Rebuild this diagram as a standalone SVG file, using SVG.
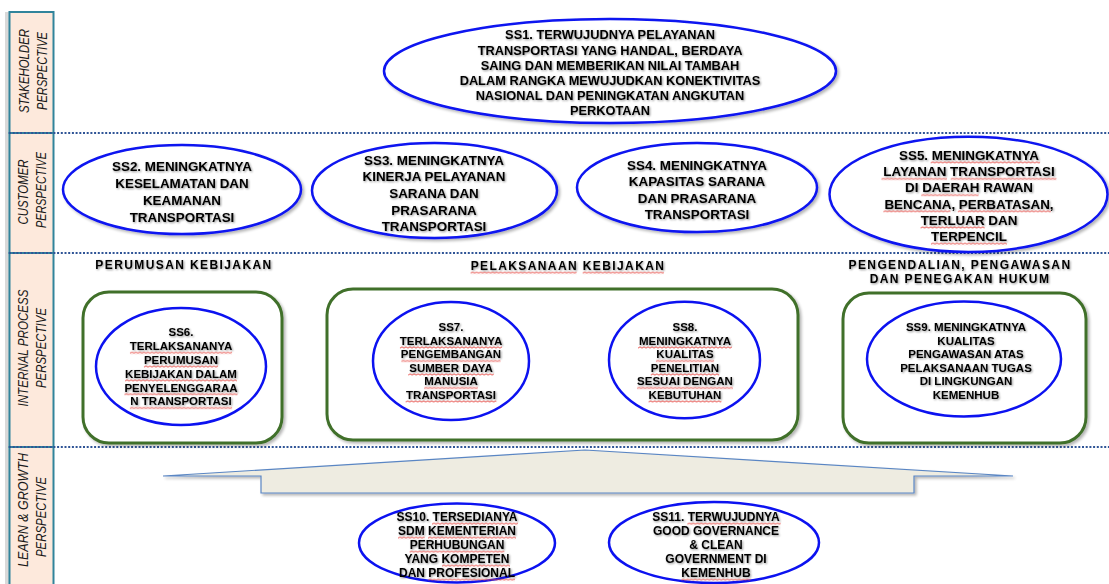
<svg xmlns="http://www.w3.org/2000/svg" width="1109" height="584" viewBox="0 0 1109 584">
<defs>
<filter id="ts" x="-5%" y="-20%" width="110%" height="140%">
<feGaussianBlur in="SourceAlpha" stdDeviation="0.9"/>
<feOffset dx="1" dy="1" result="b"/>
<feComponentTransfer in="b" result="c"><feFuncA type="linear" slope="0.45"/></feComponentTransfer>
<feMerge><feMergeNode in="c"/><feMergeNode in="SourceGraphic"/></feMerge>
</filter>
<filter id="ss" x="-5%" y="-5%" width="112%" height="115%">
<feGaussianBlur in="SourceAlpha" stdDeviation="1.5"/>
<feOffset dx="1.5" dy="2" result="b"/>
<feComponentTransfer in="b" result="c"><feFuncA type="linear" slope="0.3"/></feComponentTransfer>
<feMerge><feMergeNode in="c"/><feMergeNode in="SourceGraphic"/></feMerge>
</filter>
<pattern id="wv" width="4" height="3" patternUnits="userSpaceOnUse">
<path d="M-2,0.8 L0,2.2 L2,0.8 L4,2.2 L6,0.8" fill="none" stroke="#e5423c" stroke-width="0.9"/>
</pattern>
<style>
.col{fill:#fde9dc;stroke:#31849b;stroke-width:2}
.lab{font-family:"Liberation Sans",Arial,sans-serif;font-style:italic;font-size:14px;fill:#1a1a1a}
.dot{stroke:#2f5496;stroke-width:2;stroke-dasharray:2 1.7;fill:none}
.ell{fill:#fff;stroke:#0c12f0;stroke-width:2.5}
.grp{fill:#fff;stroke:#41702a;stroke-width:3}
.t{font-family:"Liberation Sans",Arial,sans-serif;font-weight:bold;fill:#000;text-anchor:middle}
.f1{font-size:12.8px}
.f2{font-size:13.4px}
.f3{font-size:11.5px}
.f4{font-size:12px}
.hd{font-size:12px;letter-spacing:1.4px}
.sq{fill:url(#wv)}
</style>
</defs>
<rect width="1109" height="584" fill="#fff"/>
<rect x="5" y="12" width="4" height="572" fill="#d9d9d9"/>
<g id="perspectives">
<rect class="col" x="9.5" y="12" width="44" height="121"/>
<rect class="col" x="9.5" y="133" width="44" height="120"/>
<rect class="col" x="9.5" y="253" width="44" height="194"/>
<rect class="col" x="9.5" y="447" width="44" height="142"/>
<text class="lab" transform="translate(28.5,71) rotate(-90)" text-anchor="middle" textLength="84" lengthAdjust="spacingAndGlyphs">STAKEHOLDER</text>
<text class="lab" transform="translate(47,71) rotate(-90)" text-anchor="middle" textLength="78" lengthAdjust="spacingAndGlyphs">PERSPECTIVE</text>
<text class="lab" transform="translate(28,192) rotate(-90)" text-anchor="middle" textLength="65" lengthAdjust="spacingAndGlyphs">CUSTOMER</text>
<text class="lab" transform="translate(46,190) rotate(-90)" text-anchor="middle" textLength="76" lengthAdjust="spacingAndGlyphs">PERSPECTIVE</text>
<text class="lab" transform="translate(28,348) rotate(-90)" text-anchor="middle" textLength="117" lengthAdjust="spacingAndGlyphs">INTERNAL PROCESS</text>
<text class="lab" transform="translate(46,348) rotate(-90)" text-anchor="middle" textLength="80" lengthAdjust="spacingAndGlyphs">PERSPECTIVE</text>
<text class="lab" transform="translate(28,510) rotate(-90)" text-anchor="middle" textLength="114" lengthAdjust="spacingAndGlyphs">LEARN &amp; GROWTH</text>
<text class="lab" transform="translate(46,517) rotate(-90)" text-anchor="middle" textLength="80" lengthAdjust="spacingAndGlyphs">PERSPECTIVE</text>
</g>
<g id="separators">
<line class="dot" x1="9" y1="133" x2="1109" y2="133"/>
<line class="dot" x1="9" y1="253" x2="1109" y2="253"/>
<line class="dot" x1="9" y1="447" x2="1109" y2="447"/>
</g>
<g id="connectors">
<polygon points="163,476 585,450 1013,476 914,476 914,493 261,493 261,476" fill="#eeece1" stroke="#5a86c4" stroke-width="1.2" filter="url(#ss)"/>
</g>
<g id="SS1">
<ellipse class="ell" cx="610" cy="71" rx="226" ry="52" filter="url(#ss)"/>
<g class="t f1" filter="url(#ts)">
<text x="610" y="39.4">SS1. TERWUJUDNYA PELAYANAN</text>
<text x="610" y="54.6">TRANSPORTASI YANG HANDAL, BERDAYA</text>
<text x="610" y="69.8">SAING DAN MEMBERIKAN NILAI TAMBAH</text>
<text x="610" y="85">DALAM RANGKA MEWUJUDKAN KONEKTIVITAS</text>
<text x="610" y="100.2">NASIONAL DAN PENINGKATAN ANGKUTAN</text>
<text x="610" y="115.4">PERKOTAAN</text>
</g>
</g>
<g id="SS2">
<ellipse class="ell" cx="182" cy="189.5" rx="119" ry="44.5" filter="url(#ss)"/>
<g class="t f2" filter="url(#ts)">
<text x="182" y="170.5">SS2. MENINGKATNYA</text>
<text x="182" y="187.5">KESELAMATAN DAN</text>
<text x="182" y="204.5">KEAMANAN</text>
<text x="182" y="221.5">TRANSPORTASI</text>
</g>
</g>
<g id="SS3">
<ellipse class="ell" cx="434.5" cy="190.5" rx="122.5" ry="47.5" filter="url(#ss)"/>
<g class="t f2" filter="url(#ts)">
<text x="434" y="164.7">SS3. MENINGKATNYA</text>
<text x="434" y="181.4">KINERJA PELAYANAN</text>
<text x="434" y="198">SARANA DAN</text>
<text x="434" y="214.7">PRASARANA</text>
<text x="434" y="231.4">TRANSPORTASI</text>
</g>
</g>
<g id="SS4">
<ellipse class="ell" cx="697" cy="187.5" rx="120" ry="44.5" filter="url(#ss)"/>
<g class="t f2" filter="url(#ts)">
<text x="697" y="169.7">SS4. MENINGKATNYA</text>
<text x="697" y="186.2">KAPASITAS SARANA</text>
<text x="697" y="202.7">DAN PRASARANA</text>
<text x="697" y="218.5">TRANSPORTASI</text>
</g>
</g>
<g id="SS5">
<ellipse class="ell" cx="968.5" cy="194.3" rx="139" ry="57.6" filter="url(#ss)"/>
<g class="t f2" filter="url(#ts)">
<text x="969" y="159.7">SS5. MENINGKATNYA</text>
<text x="969" y="176.2">LAYANAN TRANSPORTASI</text>
<text x="969" y="192.4">DI DAERAH RAWAN</text>
<text x="969" y="208.6">BENCANA, PERBATASAN,</text>
<text x="969" y="224.8">TERLUAR DAN</text>
<text x="969" y="241">TERPENCIL</text>
</g>
<rect class="sq" transform="translate(930.7,160.9)" width="109.4" height="3"/>
<rect class="sq" transform="translate(881.5,177.4)" width="65.5" height="3"/>
<rect class="sq" transform="translate(950.7,177.4)" width="105.7" height="3"/>
<rect class="sq" transform="translate(921.3,193.6)" width="57.3" height="3"/>
<rect class="sq" transform="translate(883.4,209.8)" width="67" height="3"/>
<rect class="sq" transform="translate(957.8,209.8)" width="93.1" height="3"/>
<rect class="sq" transform="translate(920.6,226)" width="64" height="3"/>
<rect class="sq" transform="translate(931,242.2)" width="75.9" height="3"/>
</g>
<g id="headings">
<g class="t hd" filter="url(#ts)">
<text x="184" y="268.5">PERUMUSAN KEBIJAKAN</text>
<text x="568" y="270">PELAKSANAAN KEBIJAKAN</text>
<text x="960" y="269">PENGENDALIAN, PENGAWASAN</text>
<text x="960" y="282.5">DAN PENEGAKAN HUKUM</text>
</g>
<rect class="sq" transform="translate(470.6,271.2)" width="106" height="3"/>
<rect class="sq" transform="translate(582.7,271.2)" width="81.2" height="3"/>
</g>
<g id="group-perumusan">
<rect class="grp" x="83" y="292" width="199" height="151" rx="26" filter="url(#ss)"/>
</g>
<g id="group-pelaksanaan">
<rect class="grp" x="327" y="289" width="471" height="151" rx="26" filter="url(#ss)"/>
</g>
<g id="group-pengendalian">
<rect class="grp" x="843" y="293" width="243" height="150" rx="26" filter="url(#ss)"/>
</g>
<g id="SS6">
<ellipse class="ell" cx="181" cy="366.5" rx="85" ry="58.5"/>
<g class="t f3" filter="url(#ts)">
<text x="181" y="336.3">SS6.</text>
<text x="181" y="350.1">TERLAKSANANYA</text>
<text x="181" y="363.9">PERUMUSAN</text>
<text x="181" y="377.7">KEBIJAKAN DALAM</text>
<text x="181" y="391.5">PENYELENGGARAA</text>
<text x="181" y="405.3">N TRANSPORTASI</text>
</g>
<rect class="sq" transform="translate(129.95,351.3)" width="102.1" height="3"/>
<rect class="sq" transform="translate(143.95,365.1)" width="74.1" height="3"/>
<rect class="sq" transform="translate(125.1,378.9)" width="111.8" height="3"/>
<rect class="sq" transform="translate(124.45,392.7)" width="113.1" height="3"/>
<rect class="sq" transform="translate(129.9,406.5)" width="102.2" height="3"/>
</g>
<g id="SS7">
<ellipse class="ell" cx="451" cy="361" rx="78" ry="59"/>
<g class="t f3" filter="url(#ts)">
<text x="451" y="331.3">SS7.</text>
<text x="451" y="344.8">TERLAKSANANYA</text>
<text x="451" y="358.3">PENGEMBANGAN</text>
<text x="451" y="371.8">SUMBER DAYA</text>
<text x="451" y="385.3">MANUSIA</text>
<text x="451" y="398.8">TRANSPORTASI</text>
</g>
<rect class="sq" transform="translate(399.95,346)" width="102.1" height="3"/>
<rect class="sq" transform="translate(401.4,359.5)" width="99.1" height="3"/>
<rect class="sq" transform="translate(408.2,373)" width="85.6" height="3"/>
<rect class="sq" transform="translate(424.15,386.5)" width="53.7" height="3"/>
<rect class="sq" transform="translate(405.65,400)" width="90.7" height="3"/>
</g>
<g id="SS8">
<ellipse class="ell" cx="684.5" cy="360" rx="75.5" ry="58.3"/>
<g class="t f3" filter="url(#ts)">
<text x="685" y="331.3">SS8.</text>
<text x="685" y="344.8">MENINGKATNYA</text>
<text x="685" y="358.3">KUALITAS</text>
<text x="685" y="371.8">PENELITIAN</text>
<text x="685" y="385.3">SESUAI DENGAN</text>
<text x="685" y="398.8">KEBUTUHAN</text>
</g>
<rect class="sq" transform="translate(638.05,346)" width="93.9" height="3"/>
<rect class="sq" transform="translate(655.95,359.5)" width="58.1" height="3"/>
<rect class="sq" transform="translate(650.8,373)" width="68.4" height="3"/>
<rect class="sq" transform="translate(637.1,386.5)" width="95.8" height="3"/>
<rect class="sq" transform="translate(648.6,400)" width="72.8" height="3"/>
</g>
<g id="SS9">
<ellipse class="ell" cx="964" cy="359" rx="97" ry="57.5"/>
<g class="t f3" filter="url(#ts)">
<text x="966" y="331.3">SS9. MENINGKATNYA</text>
<text x="966" y="344.8">KUALITAS</text>
<text x="966" y="358.3">PENGAWASAN  ATAS</text>
<text x="966" y="371.8">PELAKSANAAN TUGAS</text>
<text x="966" y="385.3">DI LINGKUNGAN</text>
<text x="966" y="398.8">KEMENHUB</text>
</g>
</g>
<g id="SS10">
<ellipse class="ell" cx="457" cy="543" rx="98" ry="39.5"/>
<g class="t f4" filter="url(#ts)">
<text x="457" y="521">SS10. TERSEDIANYA</text>
<text x="457" y="535">SDM KEMENTERIAN</text>
<text x="457" y="549">PERHUBUNGAN</text>
<text x="457" y="563">YANG KOMPETEN</text>
<text x="457" y="577">DAN PROFESIONAL</text>
</g>
<rect class="sq" transform="translate(432,522.2)" width="86" height="3"/>
<rect class="sq" transform="translate(398,536.2)" width="26.7" height="3"/>
<rect class="sq" transform="translate(428,536.2)" width="88" height="3"/>
<rect class="sq" transform="translate(409.65,550.2)" width="94.7" height="3"/>
<rect class="sq" transform="translate(442,564.2)" width="68" height="3"/>
<rect class="sq" transform="translate(428.3,578.2)" width="86.7" height="3"/>
</g>
<g id="SS11">
<ellipse class="ell" cx="714" cy="542.5" rx="105" ry="40.5"/>
<g class="t f4" filter="url(#ts)">
<text x="716" y="521">SS11. TERWUJUDNYA</text>
<text x="716" y="535">GOOD GOVERNANCE</text>
<text x="716" y="549">&amp; CLEAN</text>
<text x="716" y="563">GOVERNMENT DI</text>
<text x="716" y="577">KEMENHUB</text>
</g>
<rect class="sq" transform="translate(687.4,522.2)" width="93.3" height="3"/>
<rect class="sq" transform="translate(681.35,578.2)" width="69.3" height="3"/>
</g>
</svg>
